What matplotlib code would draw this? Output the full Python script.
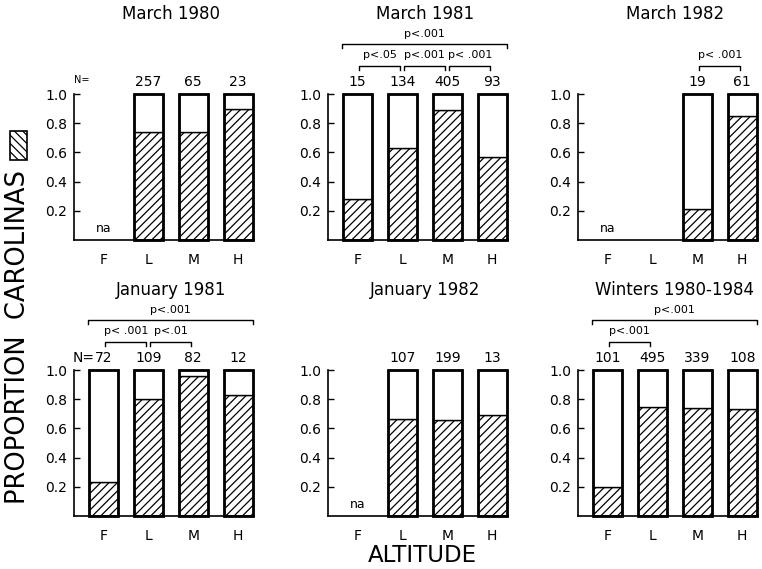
import matplotlib
matplotlib.use("Agg")
from matplotlib import pyplot as plt
from matplotlib.patches import Rectangle

plt.rcParams['font.family'] = ['DejaVu Sans']
plt.rcParams['hatch.linewidth'] = 0.9

altitudes = ['F', 'L', 'M', 'H']

titles = ['March 1980', 'March 1981', 'March 1982',
          'January 1981', 'January 1982', 'Winters 1980-1984']

# proportion Carolinas (hatched part), None = no bar
mar80 = [None, 0.74, 0.74, 0.90]
mar81 = [0.28, 0.63, 0.89, 0.57]
mar82 = [None, None, 0.21, 0.85]
jan81 = [0.23, 0.80, 0.96, 0.83]
jan82 = [None, 0.665, 0.66, 0.69]
winters = [0.20, 0.75, 0.74, 0.73]

n_mar80 = [None, 257, 65, 23]
n_mar81 = [15, 134, 405, 93]
n_mar82 = [None, None, 19, 61]
n_jan81 = [72, 109, 82, 12]
n_jan82 = [None, 107, 199, 13]
n_winters = [101, 495, 339, 108]

# categories marked "na"
na_mar80 = ['F']
na_mar82 = ['F']
na_jan82 = ['F']

# significance brackets: (from, to, label, level)
cmp_mar81 = [(0, 3, 'p<.001', 2), (0, 1, 'p<.05', 1), (1, 2, 'p<.001', 1), (2, 3, 'p< .001', 1)]
cmp_mar82 = [(2, 3, 'p< .001', 1)]
cmp_jan81 = [(0, 3, 'p<.001', 2), (0, 1, 'p< .001', 1), (1, 2, 'p<.01', 1)]
cmp_winters = [(0, 3, 'p<.001', 2), (0, 1, 'p<.001', 1)]

panels = [
    (mar80, n_mar80, na_mar80, [], 'small'),
    (mar81, n_mar81, [], cmp_mar81, None),
    (mar82, n_mar82, na_mar82, cmp_mar82, None),
    (jan81, n_jan81, [], cmp_jan81, 'big'),
    (jan82, n_jan82, na_jan82, [], None),
    (winters, n_winters, [], cmp_winters, None),
]

fig = plt.figure(figsize=(7.62, 5.69), dpi=100)

lefts = [74 / 762, 328 / 762, 578 / 762]
bottoms = [1 - 240 / 569, 1 - 516 / 569]
w = 180 / 762
h = 146 / 569
bw = 0.65

for k, (vals, ns, nas, cmps, nlab) in enumerate(panels):
    ax = fig.add_axes([lefts[k % 3], bottoms[k // 3], w, h])
    x = list(range(len(altitudes)))
    for i, v in enumerate(vals):
        if v is None:
            continue
        ax.bar(i, v, width=bw, facecolor='white', edgecolor='black', hatch='////', lw=1.0, clip_on=False)
        ax.bar(i, 1 - v, bottom=v, width=bw, facecolor='white', edgecolor='black', lw=1.0, clip_on=False)
        ax.bar(i, 1, width=bw, fill=False, edgecolor='black', lw=2.0, clip_on=False)
    for i, n in enumerate(ns):
        if n is not None:
            ax.text(i, 1.035, str(n), ha='center', va='bottom', fontsize=10)
    if nlab == 'small':
        ax.text(-0.66, 1.06, 'N=', ha='left', va='bottom', fontsize=7)
    elif nlab == 'big':
        ax.text(-0.68, 1.035, 'N=', ha='left', va='bottom', fontsize=10)
    for a in nas:
        ax.text(altitudes.index(a), 0.035, 'na', ha='center', va='bottom', fontsize=9)
    for i, j, lab, lev in cmps:
        if lev == 2:
            x0, x1, y = i - 0.33, j + 0.33, 1.345
        else:
            x0, x1, y = i + 0.04, j - 0.04, 1.195
        ax.plot([x0, x0, x1, x1], [y - 0.03, y, y, y - 0.03], color='black', lw=1.0, clip_on=False)
        ax.text((x0 + x1) / 2, y + 0.035, lab, ha='center', va='bottom', fontsize=8)
    ax.text(1.5, 1.55, titles[k], ha='center', va='center', fontsize=12)

    ax.set_xlim(-0.65, 3.35)
    ax.set_ylim(0, 1)
    ax.set_xticks(x)
    ax.set_xticklabels(altitudes, fontsize=10)
    ax.set_yticks([0.2, 0.4, 0.6, 0.8, 1.0])
    ax.set_yticklabels(['0.2', '0.4', '0.6', '0.8', '1.0'], fontsize=10)
    ax.tick_params(axis='x', length=0, pad=9)
    ax.tick_params(axis='y', direction='in', length=4, width=1.0, pad=5)
    ax.spines['top'].set_visible(False)
    ax.spines['right'].set_visible(False)
    for s in ['left', 'bottom']:
        ax.spines[s].set_linewidth(1.2)

fig.text(18 / 762, 1 - 337 / 569, 'PROPORTION  CAROLINAS', rotation=90,
         ha='center', va='center', fontsize=18.5)
fig.patches.append(Rectangle((10 / 762, 1 - 160 / 569), 17 / 762, 29 / 569,
                             transform=fig.transFigure, facecolor='white',
                             edgecolor='black', hatch='\\\\\\\\', lw=1.2))
fig.text(422 / 762, 1 - 556 / 569, 'ALTITUDE', ha='center', va='center', fontsize=16.5)

fig.savefig('out.png', dpi=100)
